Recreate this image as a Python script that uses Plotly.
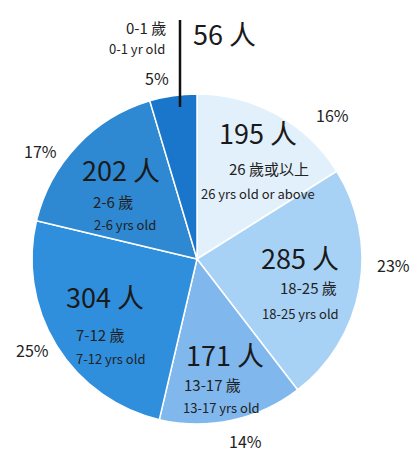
import plotly.graph_objects as go

counts = [195, 285, 171, 304, 202, 56]
big_labels = ["195 人", "285 人", "171 人", "304 人", "202 人", "56 人"]
zh_labels = ["26 歲或以上", "18-25 歲", "13-17 歲", "7-12 歲", "2-6 歲", "0-1 歲"]
en_labels = ["26 yrs old or above", "18-25 yrs old", "13-17 yrs old", "7-12 yrs old", "2-6 yrs old", "0-1 yr old"]
pct_labels = ["16%", "23%", "14%", "25%", "17%", "5%"]
colors = ["#e2f0fb", "#a8d2f5", "#80b8ee", "#2f8fdd", "#2e88d2", "#1a76ca"]

W, H = 413, 454
FONT = "Noto Sans CJK TC"

fig = go.Figure(go.Pie(
    values=counts,
    sort=False,
    direction="clockwise",
    rotation=0,
    marker=dict(colors=colors, line=dict(color="white", width=1.5)),
    textinfo="none",
    hoverinfo="skip",
    showlegend=False,
    domain=dict(x=[32 / W, 362 / W], y=[1 - 424 / H, 1 - 94 / H]),
))

# pixel positions of label blocks (centre x, centre y)
big_pos = [(258, 132), (300, 257), (225, 354), (105, 296), (121, 169), (224, 33)]
zh_pos = [(269, 168), (308, 287), (212, 384), (100, 334), (113, 201), (146, 27)]
en_pos = [(258, 193), (300, 313), (222, 407), (110, 358), (125, 225), (137, 48)]
pct_pos = [(332, 115), (393, 265), (245, 441), (32, 350), (40, 151), (157, 78)]

def px(x):
    return x / W

def py(y):
    return 1 - y / H

ann = []
for i in range(len(counts)):
    ann.append(dict(x=px(big_pos[i][0]), y=py(big_pos[i][1]), text=big_labels[i],
                    font=dict(size=27, color="#1a1a1a", family=FONT)))
    ann.append(dict(x=px(zh_pos[i][0]), y=py(zh_pos[i][1]), text=zh_labels[i],
                    font=dict(size=15, color="#222", family=FONT)))
    ann.append(dict(x=px(en_pos[i][0]), y=py(en_pos[i][1]), text=en_labels[i],
                    font=dict(size=13, color="#222", family=FONT)))
    ann.append(dict(x=px(pct_pos[i][0]), y=py(pct_pos[i][1]), text=pct_labels[i],
                    font=dict(size=16, color="#222", family=FONT)))
for a in ann:
    a.update(xref="paper", yref="paper", showarrow=False, xanchor="center", yanchor="middle")

fig.update_layout(
    width=W, height=H,
    margin=dict(l=0, r=0, t=0, b=0),
    paper_bgcolor="white",
    annotations=ann,
    shapes=[dict(type="line", xref="paper", yref="paper",
                 x0=px(180), x1=px(180), y0=py(20), y1=py(107),
                 line=dict(color="#111", width=2.5))],
)

fig.write_html("out.html", config={"displayModeBar": False},
               post_script="document.body.style.margin='0';")
